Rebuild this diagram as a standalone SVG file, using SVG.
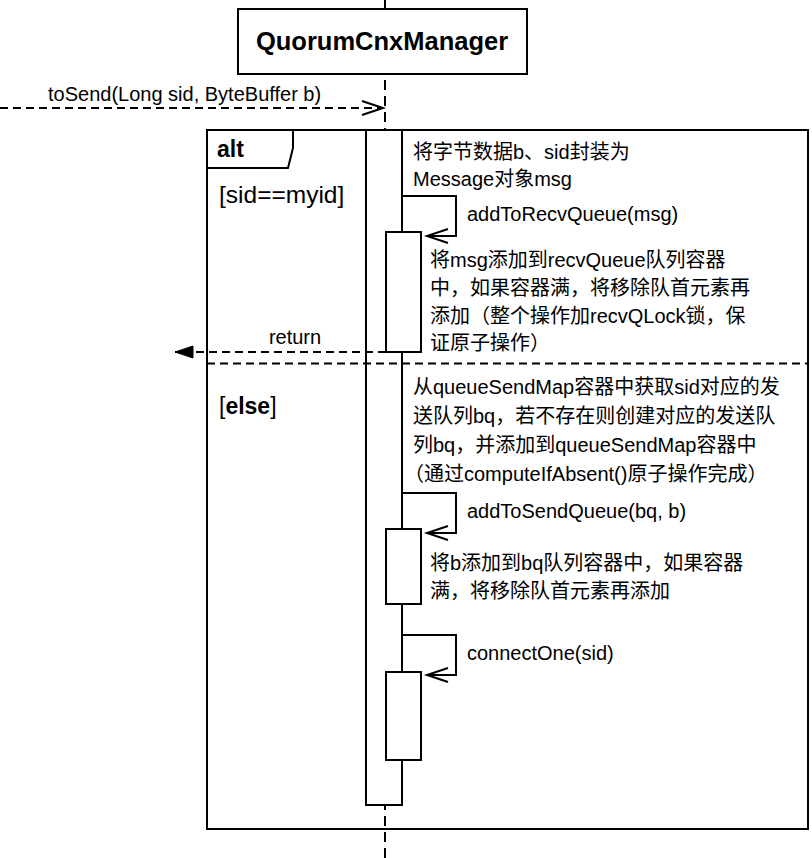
<svg xmlns="http://www.w3.org/2000/svg" width="812" height="858" viewBox="0 0 812 858">
<style>
  .ln { fill: none; stroke: #000; stroke-width: 2; }
  .dash { fill: none; stroke: #000; stroke-width: 2; stroke-dasharray: 8 5; }
  .life { fill: none; stroke: #000; stroke-width: 2; stroke-dasharray: 10 6; }
  .box { fill: #fff; stroke: #000; stroke-width: 2; }
  text { font-family: "Liberation Sans", "Noto Sans CJK SC", sans-serif; fill: #000; }
  .t { font-size: 20px; }
  .lbl { font-size: 23px; }
  .lbl2 { font-size: 24.5px; }
  .title { font-size: 25.5px; font-weight: bold; }
</style>
<defs>
  <marker id="open" markerUnits="userSpaceOnUse" markerWidth="26" markerHeight="18" refX="22" refY="9" orient="auto" overflow="visible">
    <path d="M1,2 L22,9 L1,16" fill="none" stroke="#000" stroke-width="2" stroke-dasharray="none"/>
  </marker>
  <marker id="filled" markerUnits="userSpaceOnUse" markerWidth="20" markerHeight="14" refX="19" refY="7" orient="auto" overflow="visible">
    <path d="M1,1 L19,7 L1,13 Z" fill="#000" stroke="#000" stroke-width="1" stroke-dasharray="none"/>
  </marker>
</defs>
<rect width="812" height="858" fill="#fff"/>

<g id="lifeline">
  <line class="life" x1="385" y1="0" x2="385" y2="858"/>
</g>

<g id="QuorumCnxManager">
  <rect class="box" x="238" y="9" width="289" height="65"/>
  <text class="title" x="382" y="50" text-anchor="middle">QuorumCnxManager</text>
</g>

<g id="alt-frame">
  <rect class="ln" x="207" y="130" width="601" height="699"/>
  <path class="ln" d="M207,168 H288 L293,148 V130"/>
  <text class="lbl" x="217" y="157" font-weight="bold">alt</text>
  <text class="lbl2" x="219" y="203">[sid==myid]</text>
  <text class="lbl" x="219" y="414">[<tspan font-weight="bold">else</tspan>]</text>
</g>

<g id="activation-main">
  <rect class="box" x="366" y="130" width="36" height="675"/>
</g>
<g id="activation-recv">
  <rect class="box" x="386" y="232" width="35" height="120"/>
</g>
<g id="activation-send">
  <rect class="box" x="386" y="529" width="35" height="75"/>
</g>
<g id="activation-connect">
  <rect class="box" x="386" y="672" width="35" height="88"/>
</g>

<g id="connectors">
  <line class="dash" x1="0" y1="108" x2="383" y2="108" marker-end="url(#open)"/>
  <path class="ln" d="M402,196 H456 V236 H427" marker-end="url(#open)"/>
  <line class="dash" x1="386" y1="352" x2="175" y2="352" marker-end="url(#filled)"/>
  <line class="dash" x1="207" y1="363.5" x2="808" y2="363.5"/>
  <path class="ln" d="M402,493 H456 V533 H427" marker-end="url(#open)"/>
  <path class="ln" d="M402,635 H456 V675 H427" marker-end="url(#open)"/>
</g>

<g id="labels">
  <text class="t" x="48" y="101">toSend(Long sid, ByteBuffer b)</text>
  <text class="t" x="295" y="344" text-anchor="middle">return</text>
  <text class="t" x="467" y="221">addToRecvQueue(msg)</text>
  <text class="t" x="467" y="518">addToSendQueue(bq, b)</text>
  <text class="t" x="467" y="660">connectOne(sid)</text>
</g>

<g id="note-wrap">
  <text class="t" x="413" y="159">将字节数据b、sid封装为</text>
  <text class="t" x="413" y="186">Message对象msg</text>
</g>
<g id="note-recv">
  <text class="t" x="430" y="267">将msg添加到recvQueue队列容器</text>
  <text class="t" x="430" y="295">中，如果容器满，将移除队首元素再</text>
  <text class="t" x="430" y="323">添加（整个操作加recvQLock锁，保</text>
  <text class="t" x="430" y="350">证原子操作）</text>
</g>
<g id="note-else">
  <text class="t" x="413" y="394">从queueSendMap容器中获取sid对应的发</text>
  <text class="t" x="413" y="423">送队列bq，若不存在则创建对应的发送队</text>
  <text class="t" x="413" y="452">列bq，并添加到queueSendMap容器中</text>
  <text class="t" x="404" y="481">（通过computeIfAbsent()原子操作完成）</text>
</g>
<g id="note-send">
  <text class="t" x="430" y="570">将b添加到bq队列容器中，如果容器</text>
  <text class="t" x="430" y="598">满，将移除队首元素再添加</text>
</g>
</svg>
